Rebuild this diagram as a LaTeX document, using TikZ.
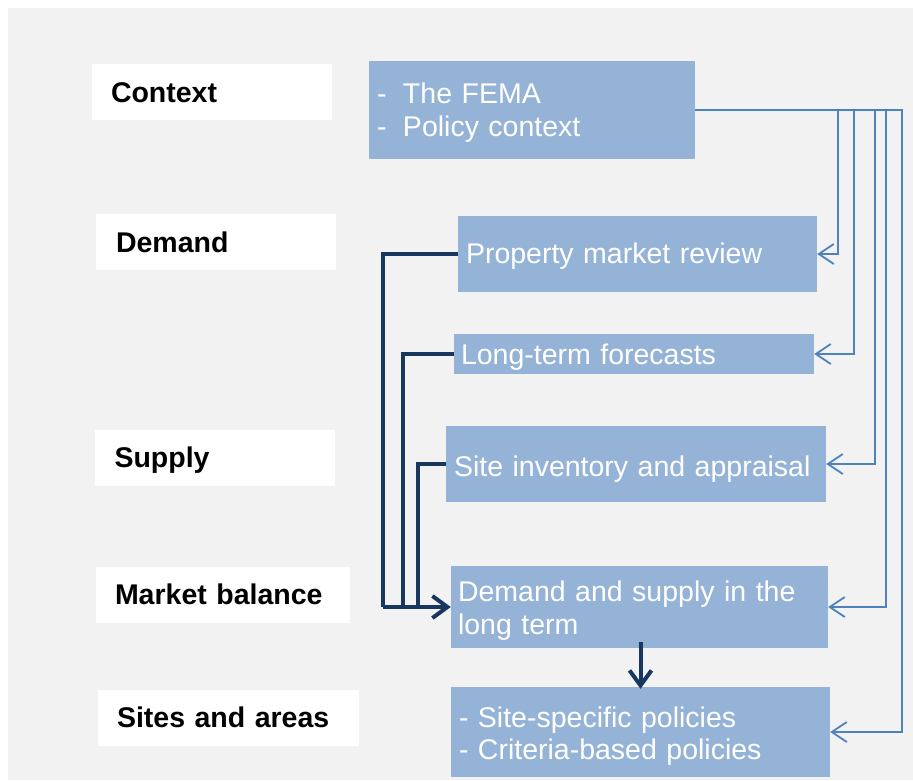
\documentclass[tikz,border=0pt]{standalone}
\usepackage{fontspec}
\setmainfont[WordSpace=1.2]{Liberation Sans}
\usetikzlibrary{arrows.meta}
\definecolor{bgray}{HTML}{F2F2F2}
\definecolor{boxblue}{HTML}{95B3D7}
\definecolor{lineblue}{HTML}{4F81BD}
\definecolor{navy}{HTML}{17375E}
\newcommand\labfnt{\fontsize{28.5}{33}\selectfont\bfseries}
\newcommand\boxfnt{\fontsize{28.5}{33}\selectfont}
\tikzset{
  lab/.style={fill=white, font=\labfnt, text=black, inner ysep=0pt, align=left},
  bbox/.style={fill=boxblue, font=\boxfnt, text=white, inner ysep=0pt, align=left},
  bl/.style={draw=lineblue, line width=1.8pt, -{Straight Barb[length=15pt,width=20pt]}},
  dk/.style={draw=navy, line width=4pt},
  dkarr/.style={dk, -{Straight Barb[length=15pt,width=22pt]}}
}
\begin{document}
\begin{tikzpicture}[x=1pt,y=-1pt]
\useasboundingbox (0,0) rectangle (913,780);
\fill[bgray] (8,8) rectangle (913,780);

% labels
\node[lab, minimum width=240pt, minimum height=56pt, inner xsep=19pt, text width=202pt, text height=20pt, text depth=0pt] (ctx) at (212,92) {Context};
\node[lab, minimum width=240pt, minimum height=56pt, inner xsep=20pt, text width=200pt, text height=20pt, text depth=0pt] (dem) at (216,242) {Demand};
\node[lab, minimum width=240pt, minimum height=56pt, inner xsep=19.5pt, text width=201pt, text height=18pt, text depth=0pt] (sup) at (215,458) {Supply};
\node[lab, minimum width=254pt, minimum height=56pt, inner xsep=19pt, text width=216pt, text height=18pt, text depth=0pt] (mkt) at (223,595) {Market balance};
\node[lab, minimum width=261pt, minimum height=56pt, inner xsep=19pt, text width=223pt, text height=18pt, text depth=0pt] (sit) at (228.5,718) {Sites and areas};

% blue boxes
\node[bbox, minimum width=326pt, minimum height=98pt, inner xsep=8pt, text width=310pt, text height=0pt, text depth=14pt] (fema) at (532,110)
  {\makebox[26pt][l]{-}The FEMA\\\makebox[26pt][l]{-}Policy context};
\node[bbox, minimum width=359pt, minimum height=76pt, inner xsep=8pt, text width=343pt, text height=18pt, text depth=0pt] (prop) at (637.5,254)
  {Property market review};
\node[bbox, minimum width=360pt, minimum height=40pt, inner xsep=7pt, text width=346pt, text height=20pt, text depth=0pt] (lt) at (634,354)
  {Long-term forecasts};
\node[bbox, minimum width=380pt, minimum height=76pt, inner xsep=8pt, text width=364pt, text height=24pt, text depth=0pt] (si) at (636,464)
  {Site inventory and appraisal};
\node[bbox, minimum width=377pt, minimum height=82pt, inner xsep=7pt, text width=363pt, text height=0pt, text depth=12pt] (ds) at (639.5,607)
  {Demand and supply in the\\long term};
\node[bbox, minimum width=379pt, minimum height=90pt, inner xsep=8pt, text width=363pt, text height=0pt, text depth=10pt] (sites) at (640.5,732)
  {- Site-specific policies\\[-1pt]- Criteria-based policies};

% blue feedback connectors from the context box
\draw[bl] (fema.east) -| ([xshift=21pt]prop.east) -- (prop.east);
\draw[bl] (fema.east) -| ([xshift=40pt]lt.east) -- (lt.east);
\draw[bl] (fema.east) -| ([xshift=49pt]si.east) -- (si.east);
\draw[bl] (fema.east) -| ([xshift=58pt]ds.east) -- (ds.east);
\draw[bl] (fema.east) -| ([xshift=72pt]sites.east) -- (sites.east);

% dark connectors into market balance
\draw[dk] (prop.west) -| ([xshift=-68pt]ds.west);
\draw[dk] (lt.west) -| ([xshift=-48pt]ds.west);
\draw[dk] (si.west) -| ([xshift=-33pt]ds.west);
\draw[dkarr] ([xshift=-68pt]ds.west) -- (ds.west);
\draw[dkarr] ([yshift=6pt]ds.south -| sites.north) -- ([yshift=-2pt]sites.north);
\end{tikzpicture}
\end{document}
